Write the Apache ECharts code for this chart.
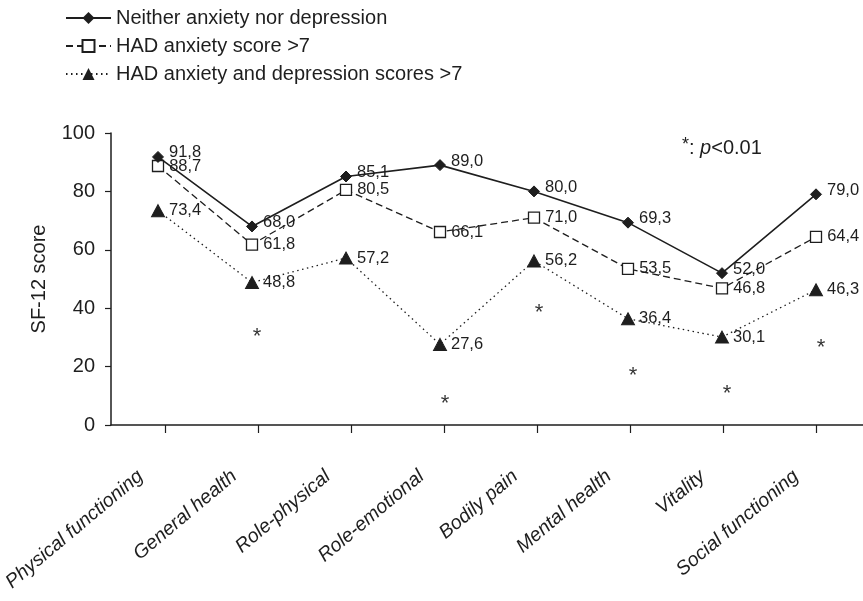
<!DOCTYPE html>
<html>
<head>
<meta charset="utf-8">
<script src="https://cdn.jsdelivr.net/npm/echarts@6/dist/echarts.min.js"></script>
<style>html,body{margin:0;padding:0;background:#fff}#c{width:863px;height:601px}</style>
</head>
<body>
<div id="c"></div>
<script>
const categories = ['Physical functioning','General health','Role-physical','Role-emotional','Bodily pain','Mental health','Vitality','Social functioning'];
const seriesNames = ['Neither anxiety nor depression','HAD anxiety score >7','HAD anxiety and depression scores >7'];
const neither = [91.8, 68.0, 85.1, 89.0, 80.0, 69.3, 52.0, 79.0];
const anxiety = [88.7, 61.8, 80.5, 66.1, 71.0, 53.5, 46.8, 64.4];
const anxDep  = [73.4, 48.8, 57.2, 27.6, 56.2, 36.4, 30.1, 46.3];
const significance = [null, 32, null, 9, 40, 18.5, 12.3, 28.1];
const yMin = 0, yMax = 100, yStep = 20;
const yTitle = 'SF-12 score';

const INK = '#1e1e1e';
const FONT = '"Liberation Sans", Arial, Helvetica, sans-serif';
const fmt = p => p.value.toFixed(1).replace('.', ',');

const chart = echarts.init(document.getElementById('c'), null, {renderer: 'canvas'});
chart.setOption({
  backgroundColor: '#fff',
  animation: false,
  textStyle: {fontFamily: FONT, color: INK},
  title: {
    left: 677, top: 131,
    text: '{s|*}{n|: }{i|p}{n|<0.01}',
    textStyle: {
      fontWeight: 'normal',
      rich: {
        s: {fontSize: 18, color: INK, fontFamily: FONT, fontWeight: 'normal', verticalAlign: 'top', padding: [0, 0, 6, 0]},
        n: {fontSize: 20, color: INK, fontFamily: FONT, fontWeight: 'normal'},
        i: {fontSize: 20, color: INK, fontFamily: FONT, fontWeight: 'normal', fontStyle: 'italic'}
      }
    }
  },
  legend: {
    data: seriesNames,
    orient: 'vertical',
    left: 60, top: 3,
    itemWidth: 45, itemHeight: 15, itemGap: 8,
    textStyle: {fontSize: 20, color: INK, fontFamily: FONT},
    selectedMode: false
  },
  grid: [
    {left: 111, right: 0, top: 133, bottom: 176},
    {left: 91, right: 20, top: 133, bottom: 176},
    {left: 119, width: 752, top: 133, bottom: 176}
  ],
  xAxis: [
    {
      type: 'category', data: categories, gridIndex: 0, boundaryGap: true,
      axisLine: {lineStyle: {color: INK, width: 1.5}},
      axisTick: {show: false}, axisLabel: {show: false}, splitLine: {show: false}
    },
    {
      type: 'category', data: categories, gridIndex: 1, boundaryGap: true,
      axisLine: {show: false}, axisTick: {show: false}, splitLine: {show: false},
      axisLabel: {interval: 0, rotate: 40, margin: 49, fontSize: 19.5, fontStyle: 'italic', color: INK, fontFamily: FONT}
    },
    {
      type: 'category', data: categories, gridIndex: 2, boundaryGap: true, offset: 22,
      axisLine: {show: false}, splitLine: {show: false}, axisLabel: {show: false},
      axisTick: {show: true, alignWithLabel: true, length: 8, interval: 0, lineStyle: {color: INK, width: 1.2}}
    }
  ],
  yAxis: [
    {
      type: 'value', gridIndex: 0, min: yMin, max: yMax, interval: yStep,
      name: yTitle, nameLocation: 'middle', nameGap: 62, nameRotate: 90,
      nameTextStyle: {fontSize: 20, color: INK, fontFamily: FONT},
      axisLine: {show: true, lineStyle: {color: INK, width: 1.5}},
      axisTick: {show: true, length: 6, lineStyle: {color: INK, width: 1.2}},
      axisLabel: {margin: 16, fontSize: 20, color: INK, fontFamily: FONT},
      splitLine: {show: false}
    },
    {type: 'value', gridIndex: 1, min: yMin, max: yMax, show: false},
    {type: 'value', gridIndex: 2, min: yMin, max: yMax, show: false}
  ],
  series: [
    {
      name: seriesNames[0], type: 'line', data: neither,
      symbol: 'diamond', symbolSize: 11,
      lineStyle: {color: INK, width: 1.6, type: 'solid'},
      itemStyle: {color: INK, borderColor: INK},
      label: {show: true, position: 'right', distance: 5, offset: [0, -4], formatter: fmt, fontSize: 16.5, color: INK, fontFamily: FONT},
      z: 4
    },
    {
      name: seriesNames[1], type: 'line', data: anxiety,
      symbol: 'rect', symbolSize: 11,
      lineStyle: {color: INK, width: 1.3, type: [7, 4]},
      itemStyle: {color: '#fff', borderColor: INK, borderWidth: 1.3},
      label: {show: true, position: 'right', distance: 5, formatter: fmt, fontSize: 16.5, color: INK, fontFamily: FONT},
      z: 3
    },
    {
      name: seriesNames[2], type: 'line', data: anxDep,
      symbol: 'triangle', symbolSize: [13, 12],
      lineStyle: {color: INK, width: 1.3, type: [1.5, 3.5]},
      itemStyle: {color: INK, borderColor: INK},
      label: {show: true, position: 'right', distance: 4, formatter: fmt, fontSize: 16.5, color: INK, fontFamily: FONT},
      z: 2
    },
    {
      name: 'p<0.01', type: 'scatter', data: significance,
      symbolSize: 1, itemStyle: {color: 'rgba(0,0,0,0)'},
      label: {show: true, position: 'inside', formatter: '*', offset: [5, 5], fontSize: 22, color: '#000', fontFamily: FONT},
      silent: true
    }
  ]
});
</script>
</body>
</html>
